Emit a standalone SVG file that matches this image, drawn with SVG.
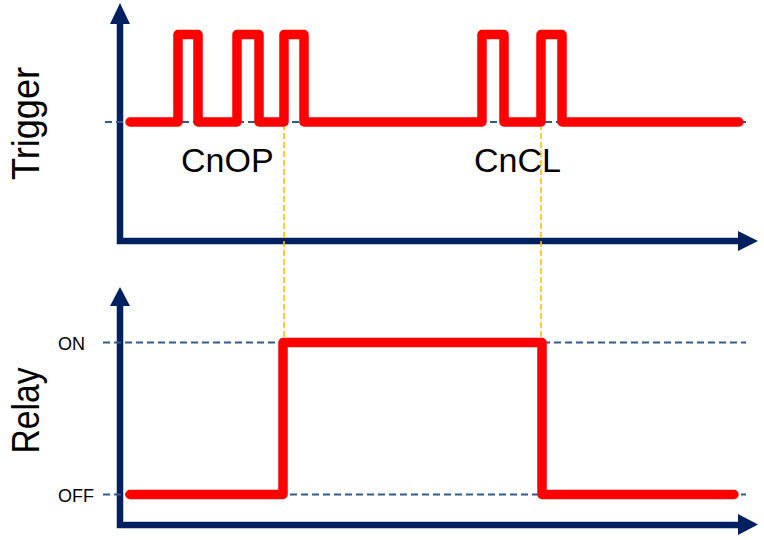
<svg xmlns="http://www.w3.org/2000/svg" width="764" height="540" viewBox="0 0 764 540">
<style>
.axis{stroke:#002060;stroke-width:6.5;fill:none}
.head{fill:#002060}
.ref{stroke:#2F5C8A;stroke-width:2;stroke-dasharray:7 4;fill:none}
.guide{stroke:#FFC000;stroke-width:1.6;stroke-dasharray:6 3;fill:none}
.sig{stroke:#FF0000;stroke-width:9.5;fill:none;stroke-linejoin:round;stroke-linecap:round}
.lbl{font-family:"Liberation Sans",Arial,sans-serif;fill:#000}
</style>
<rect width="764" height="540" fill="#fff"/>
<g id="trigger-axes">
<path class="axis" d="M120,22 V241 H740"/>
<polygon class="head" points="110,24 120,3 130,24"/>
<polygon class="head" points="738,231 758,241 738,251"/>
</g>
<g id="relay-axes">
<path class="axis" d="M120,305 V525 H740"/>
<polygon class="head" points="110,306 120,287 130,306"/>
<polygon class="head" points="738,514 758,524.5 738,535"/>
</g>
<g id="connectors">
<path class="ref" d="M105,122 H746"/>
<path class="ref" d="M103,342.5 H746"/>
<path class="ref" d="M103,494.5 H746"/>
<path class="guide" d="M284,124 V341"/>
<path class="guide" d="M541,124 V341"/>
</g>
<g id="trigger-signal">
<path class="sig" d="M130,122 H178 V34.5 H198 V122 H237 V34.5 H259 V122 H284 V34.5 H304 V122 H482 V34.5 H504 V122 H541 V34.5 H562 V122 H739"/>
</g>
<g id="relay-signal">
<path class="sig" d="M130,494.5 H283 V342.5 H542 V494.5 H734"/>
</g>
<g id="labels">
<text class="lbl" x="181" y="172" font-size="34">CnOP</text>
<text class="lbl" x="474" y="172" font-size="34">CnCL</text>
<text class="lbl" font-size="38" text-anchor="middle" textLength="113" lengthAdjust="spacingAndGlyphs" transform="translate(39,123.5) rotate(-90)">Trigger</text>
<text class="lbl" font-size="38" text-anchor="middle" textLength="86" lengthAdjust="spacingAndGlyphs" transform="translate(39,410.5) rotate(-90)">Relay</text>
<text class="lbl" x="58" y="349.5" font-size="18">ON</text>
<text class="lbl" x="58" y="501.5" font-size="18">OFF</text>
</g>
</svg>
